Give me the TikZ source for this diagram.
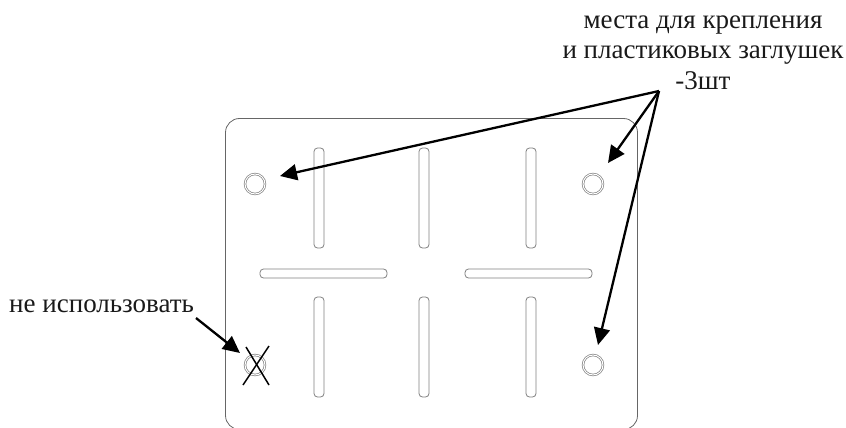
\documentclass[tikz,border=0pt]{standalone}
\usepackage{fontspec}
\setmainfont{Liberation Serif}
\usetikzlibrary{arrows.meta}
\tikzset{
  x=1pt,y=-1pt,
  plate/.style={draw=black!60,line width=0.8pt,rounded corners=14pt},
  slot/.style={draw=black!50,line width=0.8pt,rounded corners=3.5pt},
  holeouter/.style={circle,draw=black!50,line width=0.7pt,minimum size=20pt,inner sep=0pt,double=white,double distance=1pt},
  lbl/.style={font=\fontsize{27}{30.5}\selectfont,align=center,inner sep=0pt,text=black!90},
  pointer/.style={line width=2.3pt,-{Triangle[length=17pt,width=16pt]}},
  cross/.style={line width=1.5pt,draw=black}
}
\begin{document}
\begin{tikzpicture}
\useasboundingbox (0,0) rectangle (846,428);
\begin{scope}
\clip (215,100) rectangle (650,428);
\draw[plate] (225.5,118.5) rectangle (637.5,429.5);
\end{scope}
% slots
\foreach \n/\cx in {a/319,b/424,c/531}{
  \draw[slot] (\cx-5,148) rectangle (\cx+5,248);
  \draw[slot] (\cx-5,297) rectangle (\cx+5,397);
}
\draw[slot] (260,269) rectangle (387,278);
\draw[slot] (465,269) rectangle (592,278);
% holes
\node[holeouter] (h1) at (255,184) {};
\node[holeouter] (h2) at (593,184) {};
\node[holeouter] (h3) at (593,365) {};
\node[holeouter] (h4) at (255,365) {};
% cross
\coordinate (xa) at (246,347);
\coordinate (xb) at (269,385);
\coordinate (xc) at (269,346);
\coordinate (xd) at (243,385);
\draw[cross] (xa) -- (xb);
\draw[cross] (xc) -- (xd);
% labels
\node[lbl] (top) at (703,52.6) {места для крепления\\и пластиковых заглушек\\-3шт};
\node[lbl,anchor=base west] (no) at (9,312) {не использовать};
% pointers
\coordinate (hub) at (659,91);
\coordinate (t1) at (280,176);
\coordinate (t2) at (608,163);
\coordinate (t3) at (598,345);
\coordinate (s4) at (196,318);
\coordinate (t4) at (240,353);
\draw[pointer] (hub) -- (t1);
\draw[pointer] (hub) -- (t2);
\draw[pointer] (hub) -- (t3);
\draw[pointer] (s4) -- (t4);
\end{tikzpicture}
\end{document}
